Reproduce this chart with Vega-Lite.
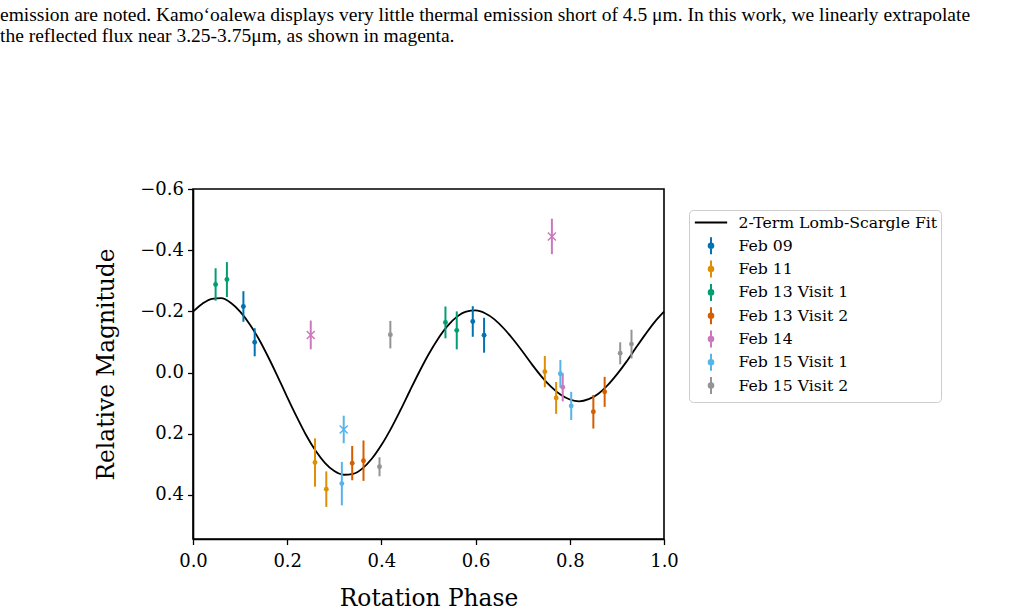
{
  "$schema": "https://vega.github.io/schema/vega-lite/v6.json",
  "width": 471,
  "height": 350,
  "autosize": "none",
  "padding": {"left": 193, "top": 189, "right": 370, "bottom": 73},
  "background": "white",
  "title": {
    "text": [
      "emission are noted. Kamoʻoalewa displays very little thermal emission short of 4.5 μm. In this work, we linearly extrapolate",
      "the reflected flux near 3.25-3.75μm, as shown in magenta."
    ],
    "anchor": "start",
    "frame": "group",
    "orient": "top",
    "dx": -193,
    "offset": 134,
    "font": "Liberation Serif",
    "fontSize": 19.5,
    "fontWeight": "normal",
    "color": "black",
    "lineHeight": 21
  },
  "datasets": {
    "fit": [
      {"series": "2-Term Lomb-Scargle Fit", "phase": 0.00, "mag": -0.199},
      {"series": "2-Term Lomb-Scargle Fit", "phase": 0.02, "mag": -0.225},
      {"series": "2-Term Lomb-Scargle Fit", "phase": 0.04, "mag": -0.241},
      {"series": "2-Term Lomb-Scargle Fit", "phase": 0.06, "mag": -0.243},
      {"series": "2-Term Lomb-Scargle Fit", "phase": 0.08, "mag": -0.228},
      {"series": "2-Term Lomb-Scargle Fit", "phase": 0.10, "mag": -0.199},
      {"series": "2-Term Lomb-Scargle Fit", "phase": 0.12, "mag": -0.159},
      {"series": "2-Term Lomb-Scargle Fit", "phase": 0.14, "mag": -0.109},
      {"series": "2-Term Lomb-Scargle Fit", "phase": 0.16, "mag": -0.050},
      {"series": "2-Term Lomb-Scargle Fit", "phase": 0.18, "mag": 0.014},
      {"series": "2-Term Lomb-Scargle Fit", "phase": 0.20, "mag": 0.080},
      {"series": "2-Term Lomb-Scargle Fit", "phase": 0.22, "mag": 0.144},
      {"series": "2-Term Lomb-Scargle Fit", "phase": 0.24, "mag": 0.204},
      {"series": "2-Term Lomb-Scargle Fit", "phase": 0.26, "mag": 0.255},
      {"series": "2-Term Lomb-Scargle Fit", "phase": 0.28, "mag": 0.295},
      {"series": "2-Term Lomb-Scargle Fit", "phase": 0.30, "mag": 0.322},
      {"series": "2-Term Lomb-Scargle Fit", "phase": 0.32, "mag": 0.334},
      {"series": "2-Term Lomb-Scargle Fit", "phase": 0.34, "mag": 0.331},
      {"series": "2-Term Lomb-Scargle Fit", "phase": 0.36, "mag": 0.313},
      {"series": "2-Term Lomb-Scargle Fit", "phase": 0.38, "mag": 0.281},
      {"series": "2-Term Lomb-Scargle Fit", "phase": 0.40, "mag": 0.237},
      {"series": "2-Term Lomb-Scargle Fit", "phase": 0.42, "mag": 0.184},
      {"series": "2-Term Lomb-Scargle Fit", "phase": 0.44, "mag": 0.124},
      {"series": "2-Term Lomb-Scargle Fit", "phase": 0.46, "mag": 0.061},
      {"series": "2-Term Lomb-Scargle Fit", "phase": 0.48, "mag": -0.001},
      {"series": "2-Term Lomb-Scargle Fit", "phase": 0.50, "mag": -0.059},
      {"series": "2-Term Lomb-Scargle Fit", "phase": 0.52, "mag": -0.110},
      {"series": "2-Term Lomb-Scargle Fit", "phase": 0.54, "mag": -0.152},
      {"series": "2-Term Lomb-Scargle Fit", "phase": 0.56, "mag": -0.182},
      {"series": "2-Term Lomb-Scargle Fit", "phase": 0.58, "mag": -0.199},
      {"series": "2-Term Lomb-Scargle Fit", "phase": 0.60, "mag": -0.203},
      {"series": "2-Term Lomb-Scargle Fit", "phase": 0.62, "mag": -0.194},
      {"series": "2-Term Lomb-Scargle Fit", "phase": 0.64, "mag": -0.174},
      {"series": "2-Term Lomb-Scargle Fit", "phase": 0.66, "mag": -0.144},
      {"series": "2-Term Lomb-Scargle Fit", "phase": 0.68, "mag": -0.108},
      {"series": "2-Term Lomb-Scargle Fit", "phase": 0.70, "mag": -0.068},
      {"series": "2-Term Lomb-Scargle Fit", "phase": 0.72, "mag": -0.026},
      {"series": "2-Term Lomb-Scargle Fit", "phase": 0.74, "mag": 0.013},
      {"series": "2-Term Lomb-Scargle Fit", "phase": 0.76, "mag": 0.046},
      {"series": "2-Term Lomb-Scargle Fit", "phase": 0.78, "mag": 0.072},
      {"series": "2-Term Lomb-Scargle Fit", "phase": 0.80, "mag": 0.088},
      {"series": "2-Term Lomb-Scargle Fit", "phase": 0.82, "mag": 0.094},
      {"series": "2-Term Lomb-Scargle Fit", "phase": 0.84, "mag": 0.087},
      {"series": "2-Term Lomb-Scargle Fit", "phase": 0.86, "mag": 0.070},
      {"series": "2-Term Lomb-Scargle Fit", "phase": 0.88, "mag": 0.042},
      {"series": "2-Term Lomb-Scargle Fit", "phase": 0.90, "mag": 0.006},
      {"series": "2-Term Lomb-Scargle Fit", "phase": 0.92, "mag": -0.035},
      {"series": "2-Term Lomb-Scargle Fit", "phase": 0.94, "mag": -0.080},
      {"series": "2-Term Lomb-Scargle Fit", "phase": 0.96, "mag": -0.124},
      {"series": "2-Term Lomb-Scargle Fit", "phase": 0.98, "mag": -0.165},
      {"series": "2-Term Lomb-Scargle Fit", "phase": 1.00, "mag": -0.199}
    ],
    "obs": [
      {"series": "Feb 09", "phase": 0.107, "mag": -0.216, "err": 0.050, "marker": "o"},
      {"series": "Feb 09", "phase": 0.131, "mag": -0.099, "err": 0.046, "marker": "o"},
      {"series": "Feb 09", "phase": 0.594, "mag": -0.167, "err": 0.050, "marker": "o"},
      {"series": "Feb 09", "phase": 0.618, "mag": -0.122, "err": 0.057, "marker": "o"},
      {"series": "Feb 11", "phase": 0.259, "mag": 0.294, "err": 0.079, "marker": "o"},
      {"series": "Feb 11", "phase": 0.283, "mag": 0.381, "err": 0.058, "marker": "o"},
      {"series": "Feb 11", "phase": 0.747, "mag": -0.003, "err": 0.051, "marker": "o"},
      {"series": "Feb 11", "phase": 0.771, "mag": 0.083, "err": 0.052, "marker": "o"},
      {"series": "Feb 13 Visit 1", "phase": 0.048, "mag": -0.288, "err": 0.053, "marker": "o"},
      {"series": "Feb 13 Visit 1", "phase": 0.072, "mag": -0.304, "err": 0.057, "marker": "o"},
      {"series": "Feb 13 Visit 1", "phase": 0.536, "mag": -0.164, "err": 0.052, "marker": "o"},
      {"series": "Feb 13 Visit 1", "phase": 0.560, "mag": -0.138, "err": 0.062, "marker": "o"},
      {"series": "Feb 13 Visit 2", "phase": 0.338, "mag": 0.296, "err": 0.056, "marker": "o"},
      {"series": "Feb 13 Visit 2", "phase": 0.362, "mag": 0.288, "err": 0.066, "marker": "o"},
      {"series": "Feb 13 Visit 2", "phase": 0.850, "mag": 0.128, "err": 0.055, "marker": "o"},
      {"series": "Feb 13 Visit 2", "phase": 0.874, "mag": 0.063, "err": 0.049, "marker": "o"},
      {"series": "Feb 14", "phase": 0.250, "mag": -0.123, "err": 0.047, "marker": "x"},
      {"series": "Feb 14", "phase": 0.762, "mag": -0.445, "err": 0.058, "marker": "x"},
      {"series": "Feb 14", "phase": 0.785, "mag": 0.048, "err": 0.046, "marker": "o"},
      {"series": "Feb 15 Visit 1", "phase": 0.316, "mag": 0.363, "err": 0.071, "marker": "o"},
      {"series": "Feb 15 Visit 1", "phase": 0.320, "mag": 0.186, "err": 0.045, "marker": "x"},
      {"series": "Feb 15 Visit 1", "phase": 0.780, "mag": 0.004, "err": 0.045, "marker": "o"},
      {"series": "Feb 15 Visit 1", "phase": 0.803, "mag": 0.109, "err": 0.046, "marker": "o"},
      {"series": "Feb 15 Visit 2", "phase": 0.396, "mag": 0.308, "err": 0.031, "marker": "o"},
      {"series": "Feb 15 Visit 2", "phase": 0.419, "mag": -0.124, "err": 0.045, "marker": "o"},
      {"series": "Feb 15 Visit 2", "phase": 0.907, "mag": -0.063, "err": 0.036, "marker": "o"},
      {"series": "Feb 15 Visit 2", "phase": 0.931, "mag": -0.093, "err": 0.047, "marker": "o"}
    ]
  },
  "encoding": {
    "x": {
      "field": "phase",
      "type": "quantitative",
      "title": "Rotation Phase",
      "scale": {"domain": [0, 1], "nice": false, "zero": false},
      "axis": {"values": [0, 0.2, 0.4, 0.6, 0.8, 1.0], "format": ".1f", "labelPadding": 8, "titlePadding": 17}
    },
    "y": {
      "field": "mag",
      "type": "quantitative",
      "title": "Relative Magnitude",
      "scale": {"domain": [-0.6, 0.544], "reverse": true, "nice": false, "zero": false},
      "axis": {"values": [-0.6, -0.4, -0.2, 0, 0.2, 0.4], "format": ".1f", "labelPadding": 4, "titlePadding": 21}
    }
  },
  "layer": [
    {
      "data": {"name": "fit"},
      "mark": {"type": "line", "strokeWidth": 1.8, "interpolate": "monotone"},
      "encoding": {
        "color": {
          "field": "series",
          "type": "nominal",
          "scale": {
            "domain": ["2-Term Lomb-Scargle Fit", "Feb 09", "Feb 11", "Feb 13 Visit 1", "Feb 13 Visit 2", "Feb 14", "Feb 15 Visit 1", "Feb 15 Visit 2"],
            "range": ["#000000", "#0173b2", "#de8f05", "#029e73", "#d55e00", "#cc78bc", "#56b4e9", "#949494"]
          },
          "legend": {
            "title": null,
            "orient": "none",
            "legendX": 496,
            "legendY": 21,
            "padding": 3,
            "rowPadding": -1.7,
            "labelOffset": 18,
            "labelLimit": 400,
            "symbolOffset": 9.5,
            "symbolSize": 289,
            "symbolStrokeWidth": 2,
            "strokeColor": "#cccccc",
            "fillColor": "white",
            "cornerRadius": 4,
            "encode": {
              "symbols": {
                "update": {
                  "shape": {"signal": "datum.value === '2-Term Lomb-Scargle Fit' ? 'M0,-1M0,1M-1.9,0L1.9,0' : 'M0,-1L0,1M0.27,0A0.27,0.27,0,1,1,-0.27,0A0.27,0.27,0,1,1,0.27,0Z'"},
                  "fill": {"scale": "color", "field": "value"},
                  "stroke": {"scale": "color", "field": "value"},
                  "strokeWidth": {"value": 2},
                  "opacity": {"value": 1}
                }
              }
            }
          }
        }
      }
    },
    {
      "data": {"name": "obs"},
      "mark": {"type": "errorbar", "thickness": 2},
      "encoding": {
        "yError": {"field": "err"},
        "color": {"field": "series", "type": "nominal"}
      }
    },
    {
      "data": {"name": "obs"},
      "transform": [{"filter": "datum.marker === 'o'"}],
      "mark": {"type": "circle", "size": 24, "opacity": 1},
      "encoding": {
        "color": {"field": "series", "type": "nominal"}
      }
    },
    {
      "data": {"name": "obs"},
      "transform": [{"filter": "datum.marker === 'x'"}],
      "mark": {"type": "point", "shape": "M-1,-1L1,1M1,-1L-1,1", "size": 64, "filled": false, "strokeWidth": 1.5, "opacity": 1},
      "encoding": {
        "color": {"field": "series", "type": "nominal"}
      }
    }
  ],
  "config": {
    "view": {"stroke": "black", "strokeWidth": 1.6},
    "font": "DejaVu Serif",
    "axis": {
      "labelFont": "DejaVu Serif",
      "labelFontSize": 18,
      "labelColor": "black",
      "titleFont": "DejaVu Serif",
      "titleFontSize": 23.3,
      "titleFontWeight": "normal",
      "titleColor": "black",
      "domainColor": "black",
      "domainWidth": 1.6,
      "tickColor": "black",
      "tickWidth": 1.3,
      "tickSize": 5.5,
      "grid": false,
      "labelFlush": false,
      "labelOverlap": false
    },
    "legend": {
      "labelFont": "DejaVu Serif",
      "labelFontSize": 15.7,
      "labelColor": "black"
    }
  }
}
